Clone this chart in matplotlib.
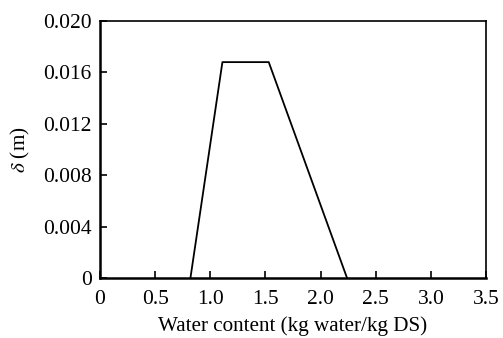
import matplotlib
matplotlib.use('Agg')
import matplotlib.pyplot as plt

# data
water = [0.82, 1.11, 1.53, 2.24]
delta = [0.0, 0.0168, 0.0168, 0.0]
xticks = [0, 0.5, 1.0, 1.5, 2.0, 2.5, 3.0, 3.5]
xlabels = ['0', '0.5', '1.0', '1.5', '2.0', '2.5', '3.0', '3.5']
yticks = [0, 0.004, 0.008, 0.012, 0.016, 0.020]
ylabels = ['0', '0.004', '0.008', '0.012', '0.016', '0.020']

plt.rcParams['font.family'] = 'Liberation Serif'
plt.rcParams['mathtext.fontset'] = 'stix'

fig = plt.figure(figsize=(5.03, 3.38), dpi=100)
ax = fig.add_axes([100/503, 1 - 278/338, 386/503, 257/338])

ax.plot(water, delta, color='black', lw=1.3)

ax.set_xlim(0, 3.5)
ax.set_ylim(0, 0.020)
ax.set_xticks(xticks)
ax.set_xticklabels(xlabels)
ax.set_yticks(yticks)
ax.set_yticklabels(ylabels)
ax.tick_params(direction='in', length=5, width=1.2, labelsize=15.5, pad=6)
ax.tick_params(axis='x', pad=9)

for s in ['left', 'bottom']:
    ax.spines[s].set_linewidth(1.8)
for s in ['top', 'right']:
    ax.spines[s].set_linewidth(1.2)

ax.set_xlabel('Water content (kg water/kg DS)', fontsize=15.2, labelpad=5)
ax.set_ylabel(r'$\delta$ (m)', fontsize=15.2, labelpad=8)

fig.savefig('out.png', dpi=100)
